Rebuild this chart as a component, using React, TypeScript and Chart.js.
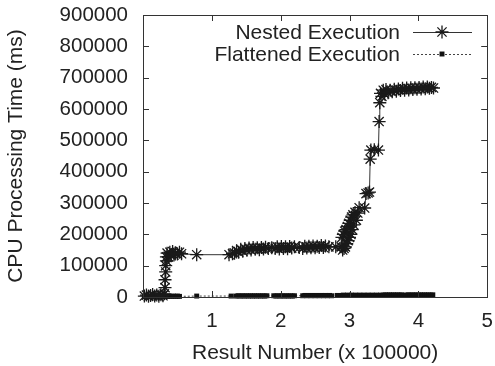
import React, { useEffect, useRef } from 'react';
import { Chart, registerables } from 'chart.js';

Chart.register(...registerables);

const seriesLabels = ['Nested Execution', 'Flattened Execution'];
const xTitle = 'Result Number (x 100000)';
const yTitle = 'CPU Processing Time (ms)';
const xTickValues = [0, 1, 2, 3, 4, 5];
const yTickValues = [0, 100000, 200000, 300000, 400000, 500000, 600000, 700000, 800000, 900000];

const nestedX = [
  0.02, 0.05, 0.08, 0.11, 0.14, 0.17, 0.2, 0.23, 0.26, 0.29,
  0.31, 0.32, 0.32, 0.33, 0.33, 0.34, 0.34,
  0.35, 0.37, 0.39, 0.41, 0.43, 0.45, 0.47, 0.5, 0.53, 0.56,
  0.78, 1.25, 1.3,
  1.33, 1.36, 1.39, 1.42, 1.45, 1.48, 1.51, 1.54, 1.57, 1.6, 1.63, 1.66, 1.69, 1.72, 1.75, 1.78, 1.82,
  1.87,
  1.92, 1.95, 1.98, 2.01, 2.04, 2.07, 2.1, 2.13, 2.16, 2.2,
  2.27,
  2.32, 2.35, 2.38, 2.41, 2.44, 2.47, 2.5, 2.53, 2.56, 2.59, 2.62, 2.65, 2.7,
  2.8,
  2.88, 2.89, 2.9, 2.91, 2.92, 2.93, 2.94, 2.95, 2.96, 2.97, 2.98, 2.99,
  3.0, 3.01, 3.02, 3.03, 3.04, 3.05, 3.06, 3.08, 3.1, 3.12, 3.14,
  3.22, 3.24, 3.27, 3.29, 3.3, 3.31, 3.36, 3.42, 3.43, 3.44,
  3.45, 3.47, 3.49, 3.51, 3.53, 3.56, 3.59, 3.62, 3.65, 3.68, 3.71, 3.74, 3.77, 3.8,
  3.83, 3.86, 3.89, 3.92, 3.95, 3.98, 4.01, 4.04, 4.07, 4.1, 4.13, 4.16, 4.19, 4.22,
];
const nestedY = [
  3000, 6000, 2000, 5000, 8000, 3000, 6000, 2000, 7000, 4000,
  10000, 30000, 55000, 80000, 100000, 115000, 128000,
  140000, 128000, 143000, 132000, 145000, 134000, 141000, 137000, 143000, 138000,
  135000, 135000, 138000,
  140000, 148000, 143000, 152000, 146000, 155000, 149000, 156000, 150000, 158000, 152000, 157000, 151000, 158000, 153000, 159000, 155000,
  157000,
  155000, 160000, 153000, 161000, 155000, 160000, 154000, 161000, 156000, 160000,
  158000,
  155000, 162000, 156000, 162000, 157000, 163000, 157000, 162000, 158000, 164000, 158000, 163000, 160000,
  160000,
  160000, 190000, 150000, 200000, 155000, 210000, 160000, 215000, 170000, 225000, 180000, 235000,
  190000, 245000, 200000, 255000, 215000, 262000, 230000, 270000, 245000, 268000, 285000,
  284000, 330000, 332000, 335000, 440000, 469000, 470000, 469000, 560000, 620000,
  650000, 640000, 660000, 648000, 662000, 652000, 660000, 655000, 663000, 657000, 664000, 659000, 666000, 660000,
  667000, 661000, 668000, 662000, 668000, 663000, 669000, 664000, 670000, 665000, 670000, 666000, 669000, 667000,
];

const flatX = [
  0.02, 0.05, 0.08, 0.11, 0.14, 0.17, 0.2, 0.23, 0.26, 0.29, 0.32, 0.35, 0.38, 0.41, 0.44, 0.47, 0.5, 0.53,
  0.78, 1.28,
  1.35, 1.38, 1.41, 1.44, 1.47, 1.5, 1.53, 1.56, 1.59, 1.62, 1.65, 1.68, 1.71, 1.74, 1.77, 1.8,
  1.9, 1.93, 1.96, 1.99, 2.02, 2.05, 2.08, 2.11, 2.14, 2.17, 2.2,
  2.32, 2.35, 2.38, 2.41, 2.44, 2.47, 2.5, 2.53, 2.56, 2.59, 2.62, 2.65, 2.68, 2.71, 2.74,
  2.82,
  2.88, 2.91, 2.94, 2.97, 3.0, 3.03, 3.06, 3.09, 3.12, 3.15, 3.18, 3.21, 3.24, 3.27, 3.3, 3.33, 3.36, 3.39, 3.42, 3.45,
  3.49, 3.52, 3.55, 3.58, 3.61, 3.64, 3.67, 3.7, 3.73, 3.76,
  3.82, 3.85, 3.88, 3.91, 3.94, 3.97, 4.0, 4.03, 4.06, 4.09, 4.12, 4.15, 4.18, 4.21,
];
const flatY = [
  2000, 3000, 1000, 3000, 2000, 3000, 1000, 2000, 3000, 2000, 3000, 2000, 3000, 2000, 3000, 2000, 3000, 2000,
  3000, 3000,
  3000, 4000, 3000, 4000, 3000, 4000, 3000, 4000, 3000, 4000, 3000, 4000, 3000, 4000, 3000, 4000,
  4000, 3000, 4000, 3000, 4000, 3000, 4000, 3000, 4000, 3000, 4000,
  4000, 5000, 4000, 5000, 4000, 5000, 4000, 5000, 4000, 5000, 4000, 5000, 4000, 5000, 4000,
  5000,
  5000, 6000, 5000, 6000, 5000, 6000, 5000, 6000, 5000, 6000, 5000, 6000, 5000, 6000, 5000, 6000, 5000, 6000, 5000, 6000,
  6000, 7000, 6000, 7000, 6000, 7000, 6000, 7000, 6000, 7000,
  6000, 7000, 6000, 7000, 6000, 7000, 6000, 7000, 6000, 7000, 6000, 7000, 6000, 7000,
];

const FONT = "'Liberation Sans', Arial, Helvetica, sans-serif";
const TEXT = '#222';
const INK = '#333';

function zip(xs: number[], ys: number[]) {
  return xs.map((x, i) => ({ x, y: ys[i] }));
}

function drawStar(ctx: CanvasRenderingContext2D, x: number, y: number, r: number) {
  const d = r * Math.SQRT1_2;
  ctx.beginPath();
  ctx.moveTo(x - r, y); ctx.lineTo(x + r, y);
  ctx.moveTo(x, y - r); ctx.lineTo(x, y + r);
  ctx.moveTo(x - d, y - d); ctx.lineTo(x + d, y + d);
  ctx.moveTo(x - d, y + d); ctx.lineTo(x + d, y - d);
  ctx.stroke();
}

const framePlugin = {
  id: 'frame',
  afterDraw(chart: any) {
    const { ctx, chartArea: a, scales } = chart;
    ctx.save();
    ctx.strokeStyle = INK;
    ctx.lineWidth = 1;
    ctx.strokeRect(Math.round(a.left) + 0.5, Math.round(a.top) + 0.5, Math.round(a.right - a.left), Math.round(a.bottom - a.top));
    const tl = 6;
    ctx.beginPath();
    for (const v of yTickValues) {
      const py = Math.round(scales.y.getPixelForValue(v)) + 0.5;
      ctx.moveTo(a.left, py); ctx.lineTo(a.left + tl, py);
      ctx.moveTo(a.right, py); ctx.lineTo(a.right - tl, py);
    }
    for (const v of xTickValues) {
      const px = Math.round(scales.x.getPixelForValue(v)) + 0.5;
      ctx.moveTo(px, a.bottom); ctx.lineTo(px, a.bottom - tl);
      ctx.moveTo(px, a.top); ctx.lineTo(px, a.top + tl);
    }
    ctx.stroke();

    // legend (inside, top right)
    const rows = [32, 54];
    ctx.font = `21px ${FONT}`;
    ctx.fillStyle = TEXT;
    ctx.textAlign = 'right';
    ctx.textBaseline = 'middle';
    chart.data.datasets.forEach((ds: any, i: number) => {
      const y = rows[i];
      ctx.fillText(ds.label, 400, y + 1);
      ctx.save();
      ctx.strokeStyle = ds.borderColor;
      ctx.lineWidth = 1;
      ctx.setLineDash(ds.borderDash || []);
      ctx.beginPath();
      ctx.moveTo(413, y + 0.5); ctx.lineTo(472, y + 0.5);
      ctx.stroke();
      ctx.setLineDash([]);
      if (ds.pointStyle === 'star') {
        ctx.strokeStyle = ds.pointBorderColor;
        ctx.lineWidth = ds.pointBorderWidth;
        drawStar(ctx, 442, y, ds.pointRadius);
      } else {
        ctx.fillStyle = ds.pointBackgroundColor;
        const s = ds.pointRadius * Math.SQRT1_2;
        ctx.fillRect(442 - s, y - s, 2 * s, 2 * s);
      }
      ctx.restore();
    });
    ctx.restore();
  },
};

export default function App() {
  const ref = useRef<HTMLCanvasElement>(null);
  useEffect(() => {
    const chart = new Chart(ref.current as HTMLCanvasElement, {
      type: 'line',
      data: {
        datasets: [
          {
            label: seriesLabels[0],
            data: zip(nestedX, nestedY),
            borderColor: INK,
            borderWidth: 1,
            pointStyle: 'star',
            pointRadius: 6.5,
            pointBorderColor: '#1a1a1a',
            pointBorderWidth: 1.3,
            pointBackgroundColor: '#1a1a1a',
            tension: 0,
            clip: false,
          },
          {
            label: seriesLabels[1],
            data: zip(flatX, flatY),
            borderColor: '#444',
            borderWidth: 1,
            borderDash: [2, 2],
            pointStyle: 'rect',
            pointRadius: 3.5,
            pointBorderColor: '#111',
            pointBorderWidth: 0,
            pointBackgroundColor: '#111',
            tension: 0,
            clip: false,
          },
        ] as any,
      },
      options: {
        animation: false,
        responsive: true,
        maintainAspectRatio: false,
        layout: { padding: { left: 0, right: 4, top: 15, bottom: 0 } },
        plugins: { legend: { display: false }, tooltip: { enabled: false } },
        scales: {
          x: {
            type: 'linear',
            min: 0,
            max: 5,
            afterBuildTicks: (s: any) => { s.ticks = xTickValues.map((v) => ({ value: v })); },
            afterFit: (s: any) => { s.height = 69; s.paddingLeft = 0; s.paddingRight = 0; },
            grid: { display: false, drawTicks: false },
            border: { display: false },
            ticks: {
              padding: 12,
              color: TEXT,
              font: { family: FONT, size: 20.5 },
              maxRotation: 0,
              autoSkip: false,
              callback: (v: any) => (v === 0 ? '' : String(v)),
            },
            title: {
              display: true,
              text: xTitle,
              color: TEXT,
              font: { family: FONT, size: 21 },
              padding: { top: 0, bottom: 0 },
            },
          },
          y: {
            type: 'linear',
            min: 0,
            max: 900000,
            afterBuildTicks: (s: any) => { s.ticks = yTickValues.map((v) => ({ value: v })); },
            afterFit: (s: any) => { s.width = 143; s.paddingTop = 0; s.paddingBottom = 0; },
            grid: { display: false, drawTicks: false },
            border: { display: false },
            ticks: {
              padding: 15,
              color: TEXT,
              font: { family: FONT, size: 20.5 },
              autoSkip: false,
              callback: (v: any) => String(v),
            },
            title: {
              display: true,
              text: yTitle,
              color: TEXT,
              font: { family: FONT, size: 21 },
              padding: { top: 4, bottom: 0 },
            },
          },
        },
      } as any,
      plugins: [framePlugin],
    });
    return () => chart.destroy();
  }, []);
  return (
    <div style={{ position: 'fixed', left: 0, top: 0, width: 495, height: 366, background: '#fff' }}>
      <canvas ref={ref} />
    </div>
  );
}
